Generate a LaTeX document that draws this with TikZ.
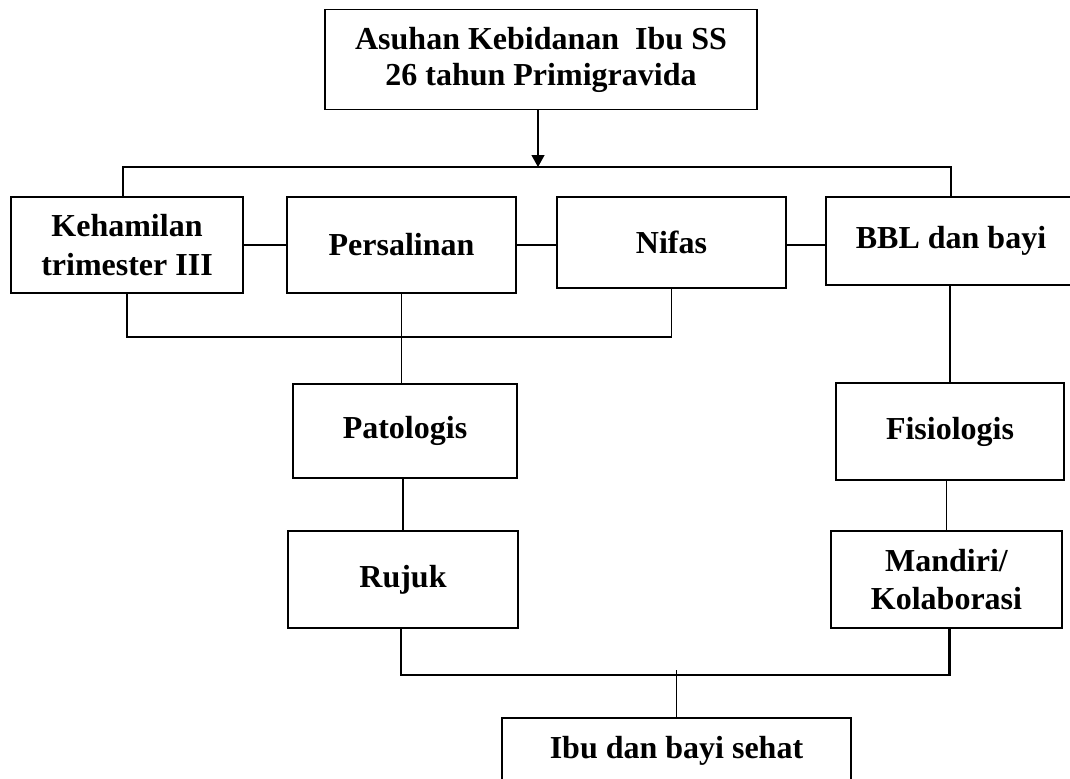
\documentclass[tikz,border=0pt]{standalone}
\usepackage{fontspec}
\setmainfont{Liberation Serif}
\usetikzlibrary{arrows.meta}
\usetikzlibrary{positioning}

\begin{document}
\begin{tikzpicture}[x=0.5pt, y=-0.5pt, line width=0.65pt,
	bx/.style={draw,rectangle,align=center,inner sep=0pt,
	font=\bfseries\fontsize{16}{19.4}\selectfont}]
\useasboundingbox (0,0) rectangle (1070,778);
\clip (0,0) rectangle (1070,778);
\node[bx, minimum width=216pt, minimum height=50pt,
	font=\bfseries\fontsize{16}{18}\selectfont] (0) at (541, 59.5) {Asuhan Kebidanan\ \ Ibu SS\\26 tahun Primigravida};
\node[bx, minimum width=116pt, minimum height=48pt] (1) at (127, 245) {Kehamilan\\trimester III};
\node[bx, minimum width=114.5pt, minimum height=48pt] (2) at (401.5, 245) {Persalinan};
\node[bx, minimum width=114.5pt, minimum height=45.5pt] (3) at (671.5, 242.5) {Nifas};
\node[bx, minimum width=125pt, minimum height=44pt] (4) at (951, 241) {BBL dan bayi};
\node[bx, minimum width=112pt, minimum height=47pt] (5) at (405, 431) {Patologis};
\node[bx, minimum width=114pt, minimum height=48.5pt] (6) at (950, 431.5) {Fisiologis};
\node[bx, minimum width=115pt, minimum height=48.5pt] (7) at (403, 579.5) {Rujuk};
\node[bx, minimum width=115.5pt, minimum height=48.5pt] (8) at (946.5, 579.5) {Mandiri/\\Kolaborasi};
\node[bx, minimum width=174.5pt, minimum height=33pt] (9) at (676.5, 751) {Ibu dan bayi sehat};
\coordinate (s) at (538, 167);
\coordinate (low) at (402, 337);
\coordinate (join) at (674, 675);
\draw[-{Triangle[length=6pt,width=6.5pt]}] (0.south -| s) to (s);
\draw ([xshift=-2pt]1.north) |- (s) -| (4.north);
\draw (1) to (2);
\draw (2.east) to (2.east -| 3.west);
\draw (2.east -| 3.east) to (2.east -| 4.west);
\draw (1.south) |- (low) -| (3.south);
\draw (2.south) to (2.south |- 5.north);
\draw (7.north) to (7.north |- 5.south);
\draw (6.north) to (6.north |- 4.south);
\draw (8.north) to (8.north |- 6.south);
\draw[line width=1.2pt] ([xshift=-1pt]7.south) |- (join) -| ([xshift=1.5pt]8.south);
\draw (9.north) to ([yshift=2.5pt]9.north |- join);
\end{tikzpicture}
\end{document}
